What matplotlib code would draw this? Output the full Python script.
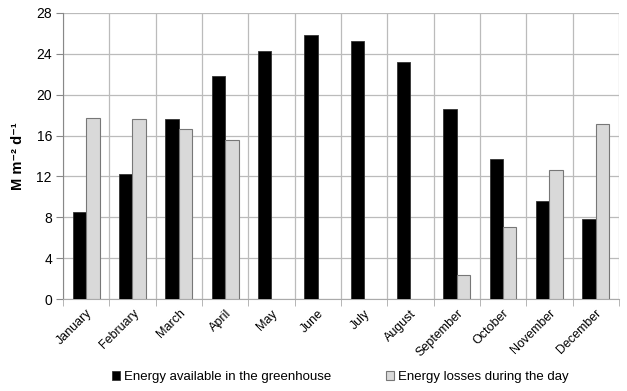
import numpy as np
from matplotlib import pyplot as plt

months = ["January", "February", "March", "April", "May", "June", "July",
          "August", "September", "October", "November", "December"]
available = [8.5, 12.2, 17.6, 21.8, 24.3, 25.8, 25.3, 23.2, 18.6, 13.7, 9.6, 7.8]
losses = [17.7, 17.6, 16.6, 15.6, 0, 0, 0, 0, 2.35, 7.1, 12.6, 17.1]

plt.rcParams['font.family'] = ['Liberation Sans', 'DejaVu Sans']

fig = plt.figure(figsize=(6.27, 3.91), dpi=100)
ax = fig.add_axes([0.1005, 0.235, 0.8865, 0.732])

x = np.arange(len(months))
w = 0.29
ax.bar(x - w / 2, available, w, color='black', edgecolor='#333333', linewidth=0.6,
       label='Energy available in the greenhouse', zorder=3)
ax.bar(x + w / 2, [v if v > 0 else np.nan for v in losses], w, color='#d9d9d9',
       edgecolor='#777777', linewidth=0.8, label='Energy losses during the day', zorder=3)

ax.set_xlim(-0.5, len(months) - 0.5)
ax.set_ylim(0, 28)
ax.set_yticks(range(0, 29, 4))
ax.set_xticks(x)
ax.set_xticklabels(months, rotation=45, ha='right', rotation_mode='anchor', fontsize=9)
ax.set_xticks(np.arange(-0.5, len(months)), minor=True)
ax.tick_params(axis='x', which='major', length=0, pad=6)
ax.tick_params(axis='x', which='minor', length=5, color='#aaaaaa')
ax.tick_params(axis='y', length=5, color='#888888', labelsize=10, pad=3)

ax.grid(axis='y', which='major', color='#bbbbbb', linewidth=0.9, zorder=0)
ax.grid(axis='x', which='minor', color='#bbbbbb', linewidth=0.9, zorder=0)
for s in ['top', 'right']:
    ax.spines[s].set_visible(False)
ax.spines['left'].set_color('#888888')
ax.spines['bottom'].set_color('#aaaaaa')

ax.set_ylabel('M m\u207b\u00b2 d\u207b\u00b9', fontsize=10.5, fontweight='bold', labelpad=8)

fig.legend(loc='lower center', bbox_to_anchor=(0.543, -0.01), ncol=2, frameon=False,
           fontsize=9.5, handlelength=0.6, handleheight=0.6, handletextpad=0.3,
           columnspacing=4.2)

plt.savefig('out.png', dpi=100)
